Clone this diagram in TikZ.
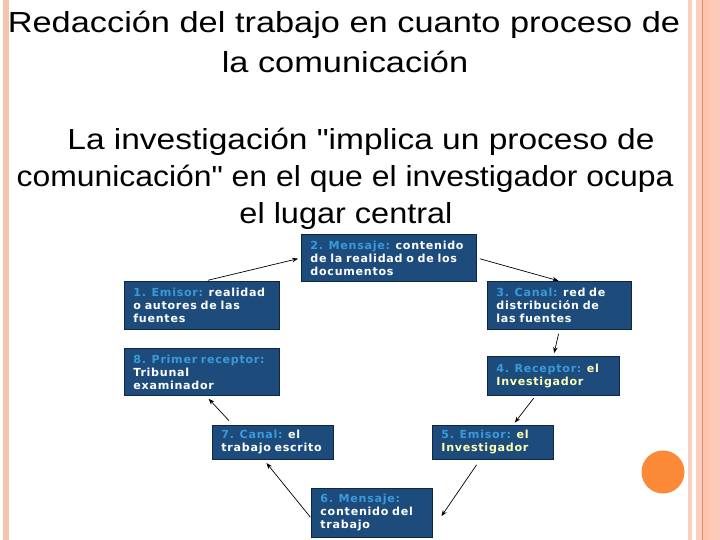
\documentclass[tikz,border=0pt]{standalone}
\usepackage{fontspec}
\setmainfont{Liberation Sans}
\newfontfamily\boxfam[LetterSpace=6.5]{DejaVu Sans}
\usetikzlibrary{arrows.meta}
\definecolor{boxblue}{HTML}{1D4C7C}
\definecolor{boxedge}{HTML}{0E2745}
\definecolor{lblblue}{HTML}{3A9AD9}
\definecolor{lblyel}{HTML}{FFFFB4}
\definecolor{stripA}{HTML}{F9D0BF}
\definecolor{stripB}{HTML}{FFC3AD}
\definecolor{stripC}{HTML}{FFC9B8}
\definecolor{stripLine}{HTML}{DC8C64}
\definecolor{leftstrip}{HTML}{F7C4AE}
\definecolor{dotorange}{HTML}{FA8A38}
\newcommand{\lbl}[1]{\textcolor{lblblue}{#1}}
\newcommand{\yel}[1]{\textcolor{lblyel}{#1}}
\begin{document}
\begin{tikzpicture}[x=1pt,y=-1pt,
  titletext/.style={anchor=base,inner sep=0pt,font=\fontsize{29}{34}\selectfont},
  stage/.style={draw=boxedge,line width=0.9pt,fill=boxblue,anchor=north west,
    inner xsep=9pt,inner ysep=1pt,text=white,align=left,
    font=\boxfam\bfseries\fontsize{11.1}{13}\selectfont},
  flow/.style={-{Stealth[length=6pt,width=4.5pt]},line width=0.7pt,black}]
\useasboundingbox (0,0) rectangle (720,540);
\fill[white] (0,0) rectangle (720,540);
% side strips
\fill[leftstrip] (3,0) rectangle (9,540);
\fill[stripA] (688,0) rectangle (692,540);
\fill[stripA] (696,0) rectangle (702,540);
\fill[stripLine] (702,0) rectangle (703.3,540);
\fill[stripB] (703.3,0) rectangle (709,540);
\fill[stripC] (709,0) rectangle (720,540);
% orange dot
\fill[dotorange] (663,472) circle (21.5);
% titles
\node[titletext] (t1) at (344,33) {\scalebox{1.185}[1]{Redacción del trabajo en cuanto proceso de}};
\node[titletext] (t2) at (345,73) {\scalebox{1.185}[1]{la comunicación}};
\node[titletext] (s1) at (361,150) {\scalebox{1.155}[1]{La investigación \textquotedbl implica un proceso de}};
\node[titletext] (s2) at (345,187) {\scalebox{1.10}[1]{comunicación\textquotedbl{} en el que el investigador ocupa}};
\node[titletext] (s3) at (346,223) {\scalebox{1.12}[1]{el lugar central}};
% boxes
\node[stage,text width=157pt,minimum height=47pt] (b2) at (301,234)
  {\lbl{2. Mensaje:} contenido\\de la realidad o de los\\documentos};
\node[stage,text width=137pt,minimum height=48pt] (b1) at (124,281)
  {\lbl{1. Emisor:} realidad\\o autores de las\\fuentes};
\node[stage,text width=126pt,minimum height=48pt] (b3) at (487,281)
  {\lbl{3. Canal:} red de\\distribución de\\las fuentes};
\node[stage,text width=137pt,minimum height=47pt] (b8) at (124,348)
  {\lbl{8. Primer receptor:}\\Tribunal\\examinador};
\node[stage,text width=114pt,minimum height=39pt] (b4) at (487,356)
  {\lbl{4. Receptor:} \yel{el}\\\yel{Investigador}};
\node[stage,text width=103pt,minimum height=34pt] (b7) at (212,425)
  {\lbl{7. Canal:} el\\trabajo escrito};
\node[stage,text width=103pt,minimum height=34pt] (b5) at (432,425)
  {\lbl{5. Emisor:} \yel{el}\\\yel{Investigador}};
\node[stage,text width=103pt,minimum height=49pt] (b6) at (311,488)
  {\lbl{6. Mensaje:}\\contenido del\\trabajo};
% arrows
\draw[flow,shorten <=3pt,shorten >=3pt] ([xshift=3pt]b1.north) -- (b2.west);
\draw[flow,shorten <=3pt,shorten >=1pt] (b2.east) -- (b3.north);
\draw[flow,shorten <=4pt,shorten >=3pt] (b3.south) -- (b4.north);
\draw[flow,shorten <=3pt,shorten >=3pt] ([xshift=-18pt]b4.south) -- ([xshift=20pt]b5.north);
\draw[flow,shorten <=6pt,shorten >=1pt] ([xshift=-13pt]b5.south) -- ([xshift=8pt,yshift=-4pt]b6.east);
\draw[flow,shorten <=1pt,shorten >=4pt] ([yshift=-5pt]b6.west) -- ([xshift=-9pt]b7.south);
\draw[flow,shorten <=6pt,shorten >=4pt] ([xshift=21pt]b7.north west) -- ([xshift=4pt]b8.south);
\end{tikzpicture}
\end{document}
